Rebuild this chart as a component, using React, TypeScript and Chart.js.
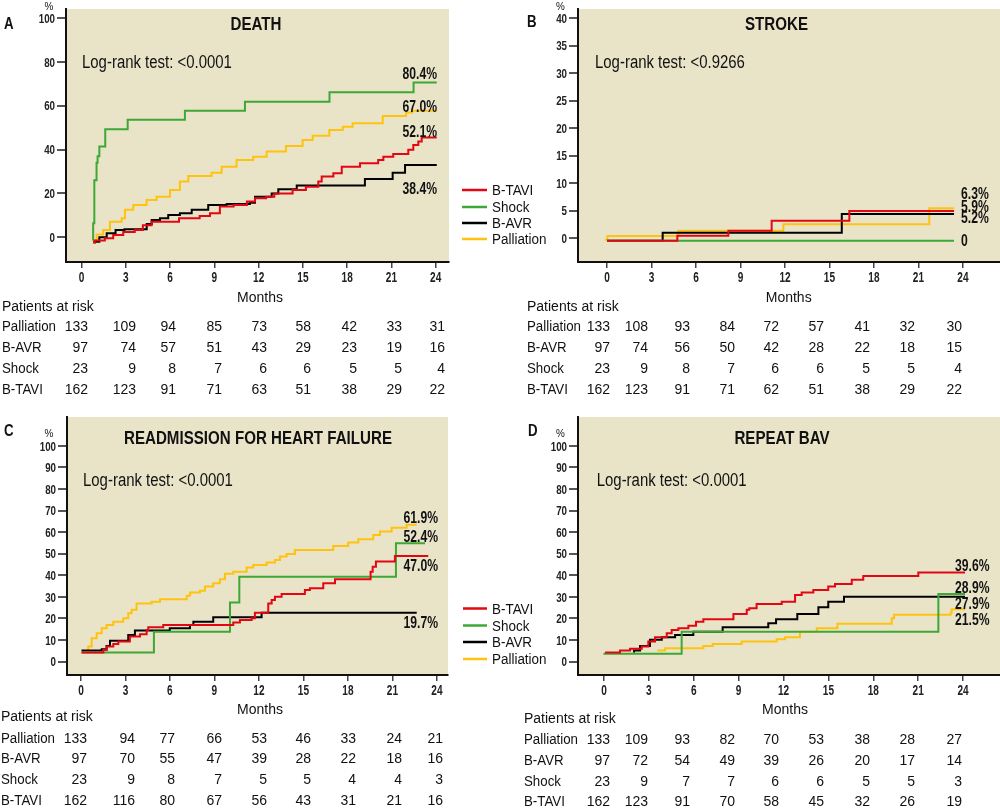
import React, { useEffect, useRef } from 'react';
import { Chart, registerables } from 'chart.js';

Chart.register(...registerables);

type Pt = [number, number];

// ---------- shared data ----------
const monthTicks = [0, 3, 6, 9, 12, 15, 18, 21, 24];
const seriesNames = ['B-TAVI', 'Shock', 'B-AVR', 'Palliation'];
const seriesColors = ['#E30613', '#3DA836', '#000000', '#FFC20E'];
const riskGroups = ['Palliation', 'B-AVR', 'Shock', 'B-TAVI'];

const deathYTicks = [0, 20, 40, 60, 80, 100];
const strokeYTicks = [0, 5, 10, 15, 20, 25, 30, 35, 40];
const pctYTicks = [0, 10, 20, 30, 40, 50, 60, 70, 80, 90, 100];

// ---------- A: death ----------
const deathTavi: Pt[] = [[0.79, -2.5], [0.9, -1.5], [1.57, -0.5], [2.14, 1], [2.82, 2.4], [3.6, 3.3], [4.15, 5.5], [4.74, 7.1], [6.6, 8.7], [8.0, 9.7], [8.7, 11], [9.37, 14], [10.3, 14.7], [11.2, 16.3], [11.75, 17.8], [12.5, 18.5], [13.06, 20], [14.3, 21.6], [15.2, 23.1], [16.04, 25.4], [16.27, 27.7], [17.06, 29.2], [17.63, 32.2], [18.87, 33.8], [20.1, 35.3], [20.45, 36.8], [21.12, 38], [22.14, 39.9], [22.48, 42.1], [22.82, 43.7], [23.05, 45.5], [24.07, 45.5]];
const deathShock: Pt[] = [[0.74, -1.2], [0.78, 6.4], [0.86, 26], [1.01, 34], [1.08, 37], [1.2, 41.4], [1.6, 49.3], [3.12, 53.6], [7.0, 57.7], [11.07, 61.9], [16.8, 66.2], [22.5, 70.6], [24.07, 70.6]];
const deathAvr: Pt[] = [[0.79, -2], [1.2, 0], [1.7, 1.8], [2.3, 3.3], [2.9, 3.6], [4.41, 6.1], [4.75, 7.9], [5.31, 8.7], [5.87, 10.2], [6.66, 11], [7.46, 12.5], [8.58, 14.7], [9.83, 15.2], [11.4, 15.8], [11.75, 18.5], [12.88, 20], [13.33, 21.9], [14.58, 23.6], [19.2, 26.6], [21.08, 29.5], [21.92, 33], [24.07, 33]];
const deathPall: Pt[] = [[0.74, -1.2], [1.02, 1.3], [1.46, 3.3], [1.92, 7.1], [2.71, 8.7], [2.94, 12.5], [3.5, 14.7], [4.4, 17], [5.08, 18.5], [5.99, 21.6], [6.66, 25.4], [7.23, 28], [8.81, 29.5], [9.49, 32.2], [10.5, 35.3], [11.63, 36.8], [12.54, 39.1], [13.85, 41.7], [14.98, 44.4], [15.66, 46.3], [16.79, 49], [17.7, 50.5], [18.37, 52], [20.41, 55.4], [21.99, 56.9], [22.4, 57.7], [24.07, 57.7]];
const deathEndLabels = ['80.4%', '67.0%', '52.1%', '38.4%'];
const deathAtRisk = [
  [133, 109, 94, 85, 73, 58, 42, 33, 31],
  [97, 74, 57, 51, 43, 29, 23, 19, 16],
  [23, 9, 8, 7, 6, 6, 5, 5, 4],
  [162, 123, 91, 71, 63, 51, 38, 29, 22],
];

// ---------- B: stroke ----------
const strokeTavi: Pt[] = [[0, -0.5], [4.74, 0.43], [8.18, 1.33], [11.1, 3.15], [16.34, 4.9], [23.4, 4.9]];
const strokeShock: Pt[] = [[0, -0.5], [23.4, -0.5]];
const strokeAvr: Pt[] = [[0, -0.5], [3.75, 0.97], [15.83, 4.37], [23.4, 4.37]];
const strokePall: Pt[] = [[-0.13, -0.3], [0.02, 0.36], [4.81, 1.33], [11.89, 2.5], [21.73, 5.4], [23.4, 5.4]];
const strokeEndLabels = ['6.3%', '5.9%', '5.2%', '0'];
const strokeAtRisk = [
  [133, 108, 93, 84, 72, 57, 41, 32, 30],
  [97, 74, 56, 50, 42, 28, 22, 18, 15],
  [23, 9, 8, 7, 6, 6, 5, 5, 4],
  [162, 123, 91, 71, 62, 51, 38, 29, 22],
];

// ---------- C: readmission for heart failure ----------
const hfTavi: Pt[] = [[0.04, 4.2], [1.51, 5.4], [1.73, 7], [2.18, 8.2], [2.52, 9.3], [3.3, 11.6], [3.98, 12.7], [4.43, 14.7], [4.54, 15.9], [5.55, 17], [10.27, 18.1], [10.72, 19.3], [11.51, 20.1], [11.73, 22.7], [12.63, 27], [12.86, 28.6], [13.08, 30.1], [13.53, 31.4], [15.1, 33.2], [15.44, 34], [16.34, 36.3], [17.13, 38.2], [19.53, 41.7], [19.67, 44], [19.89, 46.4], [21.17, 49], [23.42, 49]];
const hfShock: Pt[] = [[0.04, 4.2], [4.92, 13.9], [10.05, 27.4], [10.68, 39.4], [21.24, 54.9], [23.2, 54.9]];
const hfAvr: Pt[] = [[0.04, 5.1], [1.4, 5.7], [1.73, 7.3], [1.96, 9.7], [3.19, 12.4], [3.64, 14.4], [5.99, 15.5], [7.35, 17], [7.58, 18.5], [8.92, 20.6], [12.18, 22.7], [22.64, 22.7]];
const hfPall: Pt[] = [[0.45, 4.2], [0.49, 7], [0.72, 10.8], [1.06, 13.2], [1.4, 15.5], [1.73, 17], [2.18, 18.5], [2.85, 20.1], [3.19, 22.4], [3.42, 24], [3.75, 27], [4.77, 27.8], [5.33, 28.9], [7.13, 30.5], [7.35, 32], [8.02, 32.9], [8.36, 34.8], [8.92, 36.3], [9.37, 38.2], [9.71, 40.7], [10.27, 41.7], [11.17, 43.6], [11.62, 44.8], [12.52, 45.9], [13.08, 47.1], [13.42, 48.7], [13.87, 49.9], [14.43, 51.8], [17.01, 53.6], [18.02, 55.2], [18.7, 56.7], [19.71, 58.7], [20.16, 60.3], [20.95, 62.1], [21.96, 63.5], [22.64, 63.5]];
const hfEndLabels = ['61.9%', '52.4%', '47.0%', '19.7%'];
const hfAtRisk = [
  [133, 94, 77, 66, 53, 46, 33, 24, 21],
  [97, 70, 55, 47, 39, 28, 22, 18, 16],
  [23, 9, 8, 7, 5, 5, 4, 4, 3],
  [162, 116, 80, 67, 56, 43, 31, 21, 16],
];

// ---------- D: repeat BAV ----------
const bavTavi: Pt[] = [[0.07, 4.2], [1.07, 5.1], [1.74, 6], [2.52, 7], [2.96, 9.3], [3.41, 11.3], [4.19, 13.2], [4.52, 14.7], [4.97, 15.5], [5.64, 16.6], [6.15, 18.5], [6.64, 19.7], [8.65, 22.1], [9.54, 24], [9.71, 24.8], [10.2, 26.7], [11.88, 27.8], [12.77, 30.9], [13.21, 32], [13.99, 33.2], [14.99, 34.8], [15.44, 36], [16.56, 37.9], [17.33, 39.7], [21.01, 41.3], [24.13, 41.3]];
const bavShock: Pt[] = [[-0.04, 3.6], [5.19, 13.9], [22.35, 31.4], [24.13, 31.4]];
const bavAvr: Pt[] = [[1.96, 4.6], [2.0, 5.1], [2.41, 7.3], [3.07, 10.1], [3.86, 11.3], [4.75, 12.4], [5.97, 13.9], [7.93, 15.9], [10.98, 17.8], [11.5, 19.7], [12.92, 22.1], [14.33, 25.2], [14.99, 27.8], [16.04, 30.1], [24.13, 30.1]];
const bavPall: Pt[] = [[3.57, 5.1], [4.08, 6.2], [6.64, 7.3], [7.27, 8.2], [9.2, 9.3], [11.54, 10.4], [12.1, 11.3], [13.1, 13.9], [14.22, 15.5], [15.6, 17.5], [19.23, 20.1], [19.39, 21.7], [23.17, 22.7], [23.24, 24.3], [24.13, 24.3]];
const bavEndLabels = ['39.6%', '28.9%', '27.9%', '21.5%'];
const bavAtRisk = [
  [133, 109, 93, 82, 70, 53, 38, 28, 27],
  [97, 72, 54, 49, 39, 26, 20, 17, 14],
  [23, 9, 7, 7, 6, 6, 5, 5, 3],
  [162, 123, 91, 70, 58, 45, 32, 26, 19],
];

// ---------- styling ----------
const SANS = '"Liberation Sans", Arial, sans-serif';
const BEIGE = '#E9E4C8';
const TEXT = '#111111';
const X_AXIS_H = 30;

interface PanelSpec {
  key: string;
  letter: string;
  title: string;
  logRank: string;
  left: number; top: number; width: number; height: number;
  plot: { left: number; right: number; top: number; bottom: number };
  xMin: number; xMax: number; yMin: number; yMax: number;
  yTicks: number[];
  series: Pt[][];
  endLabels: string[];
  endX: number; endAlign: CanvasTextAlign; endY: number[];
  letterPos: Pt; pctPos: Pt; titlePos: Pt; logPos: Pt; monthsPos: Pt;
  legend?: { x1: number; x2: number; tx: number; ys: number[] };
  atRisk: number[][];
  tableX: number; tableY: number[]; colRight: number[];
}

const panels: PanelSpec[] = [
  {
    key: 'death', letter: 'A', title: 'DEATH', logRank: 'Log-rank test: <0.0001',
    left: 0, top: 0, width: 560, height: 410,
    plot: { left: 66, right: 449, top: 9, bottom: 262 },
    xMin: -1.06, xMax: 24.9, yMin: -11.3, yMax: 104.2, yTicks: deathYTicks,
    series: [deathTavi, deathShock, deathAvr, deathPall],
    endLabels: deathEndLabels, endX: 437, endAlign: 'right', endY: [78.5, 112, 137, 193.5],
    letterPos: [4, 28.5], pctPos: [49, 10], titlePos: [256, 29.5], logPos: [82, 68.3], monthsPos: [260, 301.5],
    legend: { x1: 462, x2: 487, tx: 492, ys: [190, 207, 223, 239] },
    atRisk: deathAtRisk, tableX: 2, tableY: [310.7, 330.7, 352.3, 373.3, 394],
    colRight: [88, 136, 176, 222, 267, 311, 357, 402, 445],
  },
  {
    key: 'stroke', letter: 'B', title: 'STROKE', logRank: 'Log-rank test: <0.9266',
    left: 500, top: 0, width: 500, height: 410,
    plot: { left: 78, right: 500, top: 9, bottom: 262 },
    xMin: -1.96, xMax: 26.5, yMin: -4.37, yMax: 41.7, yTicks: strokeYTicks,
    series: [strokeTavi, strokeShock, strokeAvr, strokePall],
    endLabels: strokeEndLabels, endX: 461, endAlign: 'left', endY: [199, 211.7, 223.3, 246],
    letterPos: [27, 27], pctPos: [60.5, 10], titlePos: [276.5, 29.5], logPos: [95, 68.3], monthsPos: [288.7, 302],
    atRisk: strokeAtRisk, tableX: 27, tableY: [310.7, 330.7, 352.3, 373.3, 394],
    colRight: [110, 148, 190, 235, 279, 324, 370, 415, 462],
  },
  {
    key: 'hf', letter: 'C', title: 'READMISSION FOR HEART FAILURE', logRank: 'Log-rank test: <0.0001',
    left: 0, top: 410, width: 560, height: 400,
    plot: { left: 67, right: 448, top: 7, bottom: 265 },
    xMin: -0.94, xMax: 24.75, yMin: -6.2, yMax: 113.4, yTicks: pctYTicks,
    series: [hfTavi, hfShock, hfAvr, hfPall],
    endLabels: hfEndLabels, endX: 438, endAlign: 'right', endY: [112.7, 131.7, 160.7, 217.7],
    letterPos: [4, 26], pctPos: [49, 26.7], titlePos: [258, 34], logPos: [83, 75.7], monthsPos: [260, 304],
    legend: { x1: 463, x2: 487, tx: 492, ys: [198.5, 215.5, 232, 249] },
    atRisk: hfAtRisk, tableX: 1, tableY: [310.7, 332.7, 353.3, 374, 395],
    colRight: [87, 135, 175, 222, 267, 311, 356, 402, 443],
  },
  {
    key: 'bav', letter: 'D', title: 'REPEAT BAV', logRank: 'Log-rank test: <0.0001',
    left: 500, top: 410, width: 500, height: 400,
    plot: { left: 78, right: 500, top: 7, bottom: 265 },
    xMin: -1.74, xMax: 26.47, yMin: -6.2, yMax: 113.4, yTicks: pctYTicks,
    series: [bavTavi, bavShock, bavAvr, bavPall],
    endLabels: bavEndLabels, endX: 455, endAlign: 'left', endY: [160.7, 182.7, 199.3, 215],
    letterPos: [28, 26], pctPos: [60.5, 26.7], titlePos: [282, 34], logPos: [96.7, 75.7], monthsPos: [285, 304],
    atRisk: bavAtRisk, tableX: 24, tableY: [313.3, 334, 355.3, 376, 396],
    colRight: [110, 148, 190, 235, 279, 324, 370, 415, 462],
  },
];

function txt(
  ctx: CanvasRenderingContext2D, s: string, x: number, y: number, font: string,
  align: CanvasTextAlign = 'left', sx = 1, color = TEXT,
) {
  ctx.save();
  ctx.font = font;
  ctx.textAlign = align;
  ctx.textBaseline = 'alphabetic';
  ctx.fillStyle = color;
  ctx.translate(x, y);
  ctx.scale(sx, 1);
  ctx.fillText(s, 0, 0);
  ctx.restore();
}

function decorPlugin(p: PanelSpec) {
  return {
    id: 'decor_' + p.key,
    beforeDraw(chart: any) {
      const { ctx, chartArea: a } = chart;
      ctx.save();
      ctx.fillStyle = BEIGE;
      ctx.fillRect(a.left, a.top, a.right - a.left, a.bottom - a.top);
      ctx.restore();
    },
    afterDraw(chart: any) {
      const ctx: CanvasRenderingContext2D = chart.ctx;
      const xs = chart.scales.x;
      const ys = chart.scales.y;
      const a = chart.chartArea;
      // tick labels (condensed)
      xs.ticks.forEach((t: any) => {
        txt(ctx, String(t.value), xs.getPixelForValue(t.value), a.bottom + 20, `bold 14px ${SANS}`, 'center', 0.72, '#222');
      });
      ys.ticks.forEach((t: any) => {
        txt(ctx, String(t.value), a.left - 11, ys.getPixelForValue(t.value) + 4.6, `bold 13px ${SANS}`, 'right', 0.75, '#222');
      });
      txt(ctx, p.letter, p.letterPos[0], p.letterPos[1], `bold 17px ${SANS}`, 'left', 0.78);
      txt(ctx, '%', p.pctPos[0], p.pctPos[1], `11px ${SANS}`, 'center', 0.9);
      txt(ctx, p.title, p.titlePos[0], p.titlePos[1], `bold 18px ${SANS}`, 'center', 0.84);
      txt(ctx, p.logRank, p.logPos[0], p.logPos[1], `18px ${SANS}`, 'left', 0.83);
      p.endLabels.forEach((s, i) => txt(ctx, s, p.endX, p.endY[i], `bold 16px ${SANS}`, p.endAlign, 0.76));
      txt(ctx, 'Months', p.monthsPos[0], p.monthsPos[1], `14px ${SANS}`, 'center');
      if (p.legend) {
        const lg = p.legend;
        seriesNames.forEach((name, i) => {
          ctx.save();
          ctx.strokeStyle = seriesColors[i];
          ctx.lineWidth = 2.5;
          ctx.beginPath();
          ctx.moveTo(lg.x1, lg.ys[i]);
          ctx.lineTo(lg.x2, lg.ys[i]);
          ctx.stroke();
          ctx.restore();
          txt(ctx, name, lg.tx, lg.ys[i] + 5, `14px ${SANS}`, 'left', 0.96);
        });
      }
      txt(ctx, 'Patients at risk', p.tableX, p.tableY[0], `14px ${SANS}`);
      riskGroups.forEach((g, r) => {
        const y = p.tableY[r + 1];
        txt(ctx, g, p.tableX, y, `14px ${SANS}`, 'left', 0.95);
        p.atRisk[r].forEach((v, c) => txt(ctx, String(v), p.colRight[c], y, `14px ${SANS}`, 'right'));
      });
    },
  };
}

function Panel({ spec }: { spec: PanelSpec }) {
  const ref = useRef<HTMLCanvasElement>(null);
  useEffect(() => {
    const canvas = ref.current;
    if (!canvas) return;
    const p = spec;
    const chart = new Chart(canvas, {
      type: 'line',
      data: {
        datasets: p.series.map((pts, i) => ({
          label: seriesNames[i],
          data: pts.map(([x, y]) => ({ x, y })),
          borderColor: seriesColors[i],
          backgroundColor: seriesColors[i],
          borderWidth: 2,
          pointRadius: 0,
          stepped: 'before' as const,
          fill: false,
          tension: 0,
        })),
      },
      options: {
        responsive: false,
        maintainAspectRatio: false,
        animation: false,
        events: [],
        layout: {
          padding: {
            left: 0,
            top: p.plot.top,
            right: p.width - p.plot.right,
            bottom: p.height - p.plot.bottom - X_AXIS_H,
          },
        },
        plugins: { legend: { display: false }, tooltip: { enabled: false } },
        scales: {
          x: {
            type: 'linear',
            min: p.xMin,
            max: p.xMax,
            afterBuildTicks: (s: any) => { s.ticks = monthTicks.map((v) => ({ value: v })); },
            afterFit: (s: any) => { s.height = X_AXIS_H; },
            grid: { display: true, drawOnChartArea: false, drawTicks: true, tickLength: 6, color: '#444', lineWidth: 1.5 },
            border: { display: true, color: '#111', width: 2 },
            ticks: { display: false, autoSkip: false },
          },
          y: {
            type: 'linear',
            min: p.yMin,
            max: p.yMax,
            afterBuildTicks: (s: any) => { s.ticks = p.yTicks.map((v) => ({ value: v })); },
            afterFit: (s: any) => { s.width = p.plot.left; },
            grid: { display: true, drawOnChartArea: false, drawTicks: true, tickLength: 9, color: '#555', lineWidth: 2 },
            border: { display: true, color: '#111', width: 2 },
            ticks: { display: false, autoSkip: false },
          },
        },
      } as any,
      plugins: [decorPlugin(p)],
    });
    return () => chart.destroy();
  }, [spec]);
  return (
    <canvas
      ref={ref}
      width={spec.width}
      height={spec.height}
      style={{ position: 'absolute', left: spec.left, top: spec.top, width: spec.width, height: spec.height }}
    />
  );
}

export default function App() {
  return (
    <div style={{ position: 'absolute', left: 0, top: 0, width: 1000, height: 810, background: '#fff', overflow: 'hidden' }}>
      {panels.map((p) => (
        <Panel key={p.key} spec={p} />
      ))}
    </div>
  );
}
